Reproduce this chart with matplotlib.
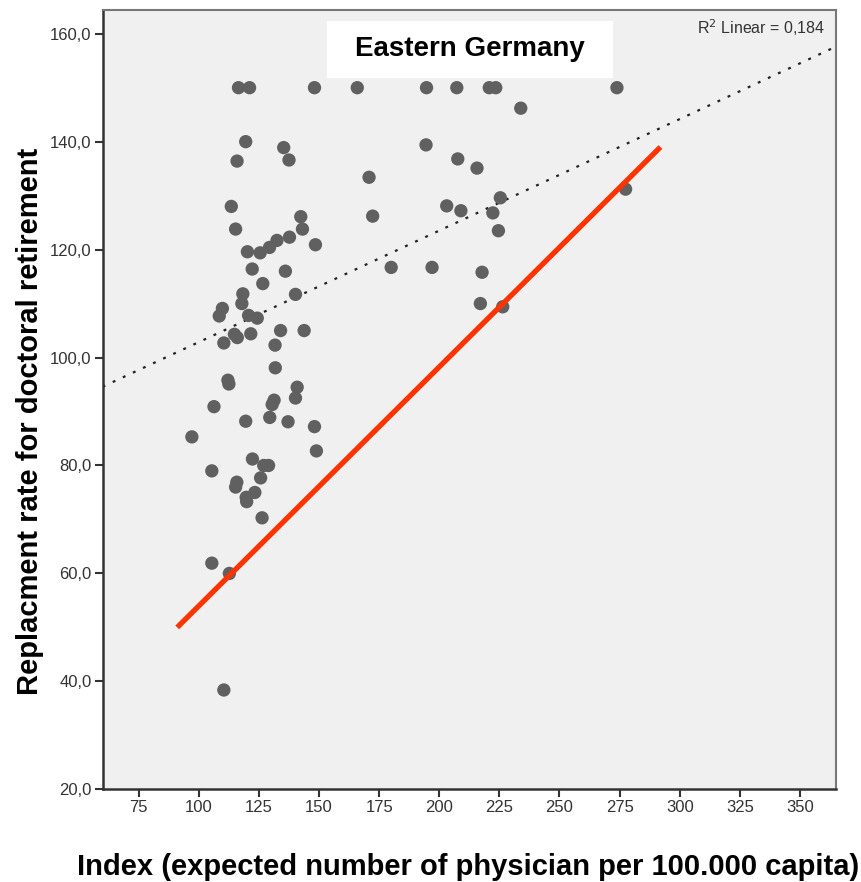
import numpy as np
import matplotlib
matplotlib.use('Agg')
import matplotlib.pyplot as plt
from matplotlib.patches import Rectangle
from matplotlib.ticker import FuncFormatter

plt.rcParams['font.family'] = ['Liberation Sans', 'DejaVu Sans']

# index (expected number of physicians per 100.000 capita)
index_vals = [116.5, 121.1, 148.1, 165.9, 194.7, 207.3, 220.8, 223.5, 273.9, 233.9,
              119.5, 135.3, 115.9, 137.5, 194.5, 207.7, 215.7, 170.8, 277.5, 225.4,
              113.5, 142.4, 115.3, 143.1, 148.5, 137.7, 132.5, 129.4, 125.5, 120.2,
              172.3, 203.1, 209.0, 222.3, 224.6, 122.2, 136.0, 126.6, 118.3, 117.9,
              140.2, 109.8, 108.5, 120.7, 124.3, 114.8, 116.0, 121.6, 110.4, 134.0,
              143.8, 131.7, 180.0, 197.0, 217.8, 217.1, 226.4, 131.8, 112.1, 112.5,
              140.9, 140.2, 131.3, 130.5, 106.3, 119.5, 129.5, 137.1, 148.1, 97.1,
              148.9, 122.3, 127.0, 129.0, 105.4, 125.7, 115.8, 115.3, 123.3, 119.7,
              119.9, 126.3, 105.4, 112.7, 110.4]
# replacement rate for doctoral retirement
repl_vals = [150.0, 150.0, 150.0, 150.0, 150.0, 150.0, 150.0, 150.0, 150.0, 146.2,
             140.0, 138.9, 136.4, 136.6, 139.4, 136.8, 135.1, 133.4, 131.2, 129.6,
             128.0, 126.1, 123.8, 123.8, 120.9, 122.3, 121.7, 120.4, 119.4, 119.6,
             126.2, 128.1, 127.2, 126.8, 123.5, 116.4, 116.0, 113.7, 111.8, 110.0,
             111.7, 109.1, 107.7, 107.8, 107.3, 104.3, 103.7, 104.4, 102.7, 105.0,
             105.0, 102.3, 116.7, 116.7, 115.8, 110.0, 109.4, 98.1, 95.8, 95.1,
             94.5, 92.5, 92.1, 91.3, 90.9, 88.2, 88.9, 88.1, 87.2, 85.3,
             82.7, 81.2, 80.0, 80.0, 79.0, 77.7, 76.9, 76.0, 75.0, 74.1,
             73.3, 70.3, 61.9, 60.0, 38.4]

# linear fit as shown in the chart (R2 = 0,184)
fit_intercept = 82.2
fit_slope = 0.2066

# hand-drawn reference line
ref_x = [91, 292]
ref_y = [50, 139]

r2_text = 'R$^2$ Linear = 0,184'
title = 'Eastern Germany'

fig = plt.figure(figsize=(8.62, 8.82), dpi=100)
ax = fig.add_axes([0.1191, 0.1051, 0.8507, 0.8836])
ax.set_facecolor('#f0f0f0')

ax.axline((0, fit_intercept), slope=fit_slope, color='#222222', lw=1.6,
          linestyle=(0, (1.3, 3.7)), zorder=2)

ax.scatter(index_vals, repl_vals, s=92, color='#606060', edgecolors='none', zorder=3)
ax.plot(ref_x, ref_y, color='#ff3300', lw=3.8, solid_capstyle='butt', zorder=4)

ax.set_xlim(60, 365)
ax.set_ylim(20, 164.4)
ax.set_xticks(np.arange(75, 351, 25))
ax.set_yticks(np.arange(20, 161, 20))
ax.yaxis.set_major_formatter(FuncFormatter(lambda v, p: ('%.1f' % v).replace('.', ',')))
ax.tick_params(length=6, width=1.5, color='#333333', labelsize=12, labelcolor='#333333', pad=2)

for s in ['left', 'bottom']:
    ax.spines[s].set_color('#333333')
    ax.spines[s].set_linewidth(1.8)
for s in ['top', 'right']:
    ax.spines[s].set_color('#777777')
    ax.spines[s].set_linewidth(1.5)

ax.add_patch(Rectangle((0.3055, 0.9131), 0.3908, 0.0728, transform=ax.transAxes,
                       facecolor='white', edgecolor='none', zorder=5))
ax.text(0.5009, 0.9495, title, transform=ax.transAxes, ha='center', va='center',
        fontsize=20, fontweight='bold', zorder=6)
ax.text(0.985, 0.977, r2_text, transform=ax.transAxes, ha='right', va='center',
        fontsize=11.5, color='#333333', zorder=6)

fig.text(468 / 862, 1 - 867 / 882, 'Index (expected number of physician per 100.000 capita)',
         ha='center', va='center', fontsize=21, fontweight='bold')
fig.text(30 / 862, 1 - 421.5 / 882, 'Replacment rate for doctoral retirement',
         ha='center', va='center', rotation=90, fontsize=21, fontweight='bold')

fig.savefig('out.png', dpi=100)
